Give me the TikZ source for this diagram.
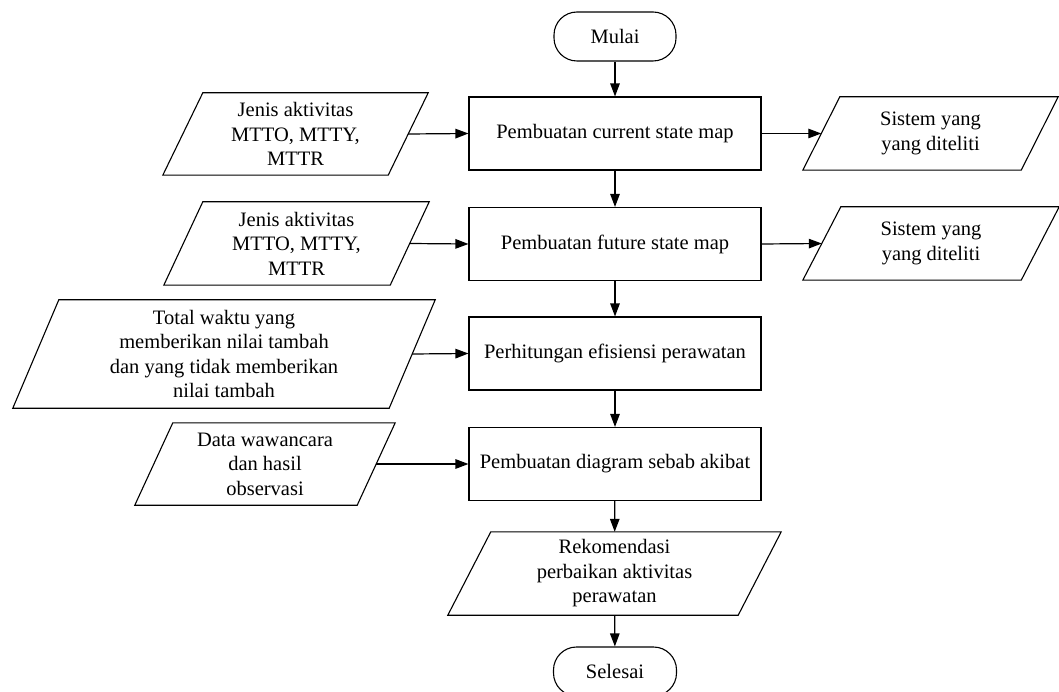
\documentclass[tikz,border=0pt]{standalone}
\usepackage{fontspec}
\setmainfont{Liberation Serif}
\newfontfamily\tnr{Liberation Serif}
\usetikzlibrary{arrows.meta,calc}
\tikzset{
  flow/.style={line width=1.2pt,-{Triangle[length=13pt,width=9.5pt]}},
  procbox/.style={draw,line width=1.1pt,minimum width=292pt,minimum height=73pt,inner sep=0pt,
    font=\tnr\fontsize{20.5}{24.5}\selectfont},
  termbox/.style={draw,line width=1.1pt,rounded corners=23pt,minimum height=49pt,inner sep=0pt,
    font=\tnr\fontsize{20.5}{24.5}\selectfont},
  paratext/.style={inner sep=0pt,align=center,font=\tnr\fontsize{20.5}{24.5}\selectfont},
  paraline/.style={line width=1.1pt,line join=miter},
}
\newcommand{\paranode}[7]{%
  \node[paratext,minimum width=#4pt,minimum height=#5pt] (#1) at (#2,#3) {#7};
  \draw[paraline] ($(#1.north west)+(#6,0)$) -- (#1.north east) -- ($(#1.south east)+(-#6,0)$) -- (#1.south west) -- cycle;
  \coordinate (#1-r) at ($(#1.east)+(-#6/2,0)$);
  \coordinate (#1-l) at ($(#1.west)+(#6/2,0)$);
}
\begin{document}
\begin{tikzpicture}[x=1pt,y=-1pt]
\useasboundingbox[fill=white] (0,0) rectangle (1059,692);

% main column
\node[termbox,minimum width=122pt] (mulai) at (615,36.5) {Mulai};
\node[procbox] (b1) at (615,133.5) {Pembuatan current state map};
\node[procbox] (b2) at (615,244) {Pembuatan future state map};
\node[procbox] (b3) at (615,353.5) {Perhitungan efisiensi perawatan};
\node[procbox] (b4) at (615,464) {Pembuatan diagram sebab akibat};
\paranode{rek}{614.5}{573.5}{333}{83}{43}{Rekomendasi\\perbaikan aktivitas\\perawatan}
\node[termbox,minimum width=123pt] (selesai) at (615,671.5) {Selesai};

% inputs
\paranode{p1}{295.5}{134}{265}{82}{40}{Jenis aktivitas\\MTTO, MTTY,\\MTTR}
\paranode{p2}{296.5}{243.5}{265}{83}{39}{Jenis aktivitas\\MTTO, MTTY,\\MTTR}
\paranode{p3}{224}{354}{422}{108}{46}{Total waktu yang\\memberikan nilai tambah\\dan yang tidak memberikan\\nilai tambah}
\paranode{p4}{265}{464}{260}{82}{38}{Data wawancara\\dan hasil\\observasi}

% outputs
\paranode{o1}{930.5}{133.5}{255}{73}{37}{Sistem yang\\yang diteliti}
\paranode{o2}{931}{243.5}{256}{73}{38}{Sistem yang\\yang diteliti}

% connectors
\draw[flow] (mulai) -- (b1);
\draw[flow] (b1) -- (b2);
\draw[flow] (b2) -- (b3);
\draw[flow] (b3) -- (b4);
\draw[flow] (b4) -- (rek);
\draw[flow] (rek) -- (selesai);
\draw[flow] (p1-r) -- (b1.west);
\draw[flow] (p2-r) -- (b2.west);
\draw[flow] (p3-r) -- (b3.west);
\draw[flow] (p4-r) -- (b4.west);
\draw[flow] (b1.east) -- (o1-l);
\draw[flow] (b2.east) -- (o2-l);
\end{tikzpicture}
\end{document}
